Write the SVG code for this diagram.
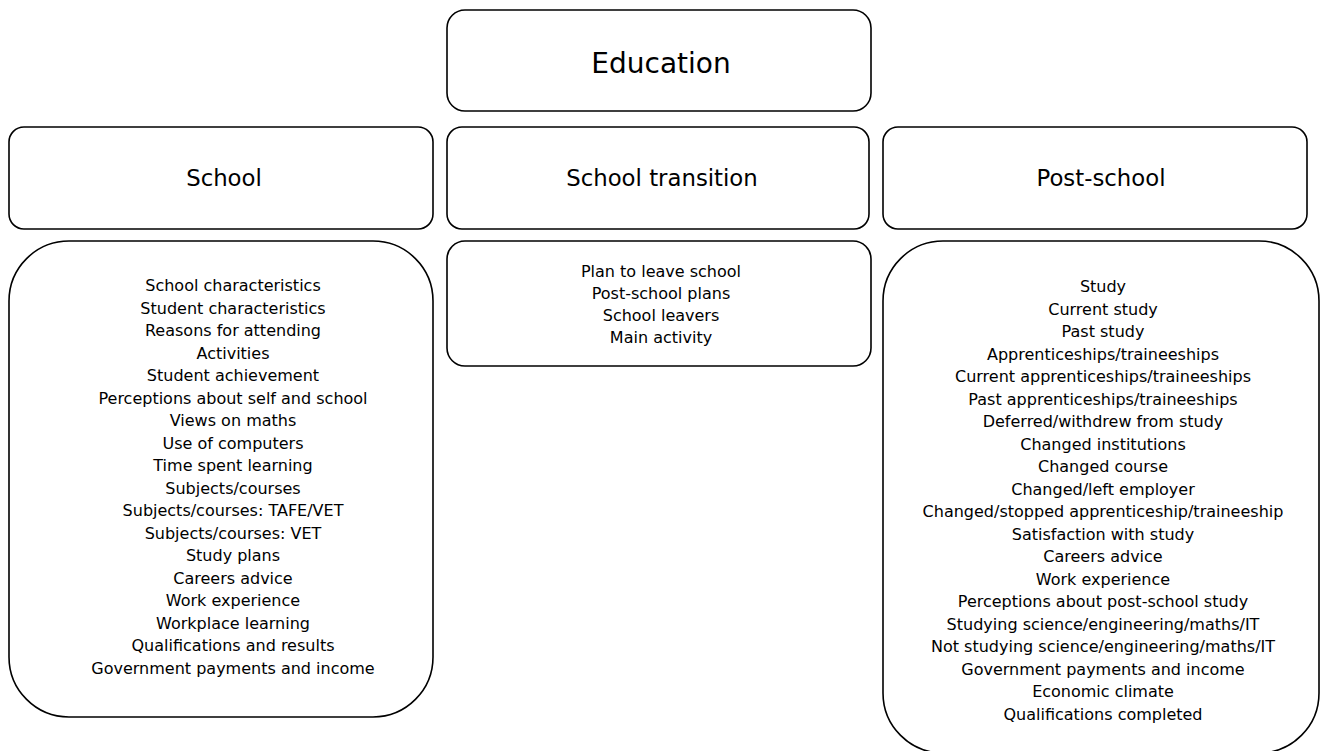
<svg xmlns="http://www.w3.org/2000/svg" width="1325" height="751" viewBox="0 0 1325 751">
<style>
.box{fill:#fff;stroke:#000;stroke-width:1.6}
text{font-family:"DejaVu Sans","Verdana",sans-serif;fill:#000;text-anchor:middle}
.t{font-size:16px}
.h{font-size:22.8px}
.e{font-size:28px}
</style>
<rect width="1325" height="751" fill="#fff"/>
<g id="education">
<rect class="box" x="447" y="10" width="424" height="101" rx="18"/>
<text class="e" x="661" y="73">Education</text>
</g>
<g id="school">
<rect class="box" x="9" y="127" width="424" height="102" rx="15"/>
<text class="h" x="224" y="186">School</text>
</g>
<g id="school-transition">
<rect class="box" x="447" y="127" width="422" height="102" rx="15"/>
<text class="h" x="662" y="186">School transition</text>
</g>
<g id="post-school">
<rect class="box" x="883" y="127" width="424" height="102" rx="15"/>
<text class="h" x="1101" y="186">Post-school</text>
</g>
<g id="school-list">
<rect class="box" x="9" y="241" width="424" height="476" rx="60"/>
<text class="t" x="233" y="291">School characteristics</text>
<text class="t" x="233" y="313.5">Student characteristics</text>
<text class="t" x="233" y="336">Reasons for attending</text>
<text class="t" x="233" y="358.5">Activities</text>
<text class="t" x="233" y="381">Student achievement</text>
<text class="t" x="233" y="403.5">Perceptions about self and school</text>
<text class="t" x="233" y="426">Views on maths</text>
<text class="t" x="233" y="448.5">Use of computers</text>
<text class="t" x="233" y="471">Time spent learning</text>
<text class="t" x="233" y="493.5">Subjects/courses</text>
<text class="t" x="233" y="516">Subjects/courses: TAFE/VET</text>
<text class="t" x="233" y="538.5">Subjects/courses: VET</text>
<text class="t" x="233" y="561">Study plans</text>
<text class="t" x="233" y="583.5">Careers advice</text>
<text class="t" x="233" y="606">Work experience</text>
<text class="t" x="233" y="628.5">Workplace learning</text>
<text class="t" x="233" y="651">Qualifications and results</text>
<text class="t" x="233" y="673.5">Government payments and income</text>
</g>
<g id="transition-list">
<rect class="box" x="447" y="241" width="424" height="125" rx="18"/>
<text class="t" x="661" y="277">Plan to leave school</text>
<text class="t" x="661" y="299">Post-school plans</text>
<text class="t" x="661" y="321">School leavers</text>
<text class="t" x="661" y="343">Main activity</text>
</g>
<g id="post-school-list">
<rect class="box" x="883" y="241" width="436" height="512" rx="60"/>
<text class="t" x="1103" y="292">Study</text>
<text class="t" x="1103" y="314.5">Current study</text>
<text class="t" x="1103" y="337">Past study</text>
<text class="t" x="1103" y="359.5">Apprenticeships/traineeships</text>
<text class="t" x="1103" y="382">Current apprenticeships/traineeships</text>
<text class="t" x="1103" y="404.5">Past apprenticeships/traineeships</text>
<text class="t" x="1103" y="427">Deferred/withdrew from study</text>
<text class="t" x="1103" y="449.5">Changed institutions</text>
<text class="t" x="1103" y="472">Changed course</text>
<text class="t" x="1103" y="494.5">Changed/left employer</text>
<text class="t" x="1103" y="517">Changed/stopped apprenticeship/traineeship</text>
<text class="t" x="1103" y="539.5">Satisfaction with study</text>
<text class="t" x="1103" y="562">Careers advice</text>
<text class="t" x="1103" y="584.5">Work experience</text>
<text class="t" x="1103" y="607">Perceptions about post-school study</text>
<text class="t" x="1103" y="629.5">Studying science/engineering/maths/IT</text>
<text class="t" x="1103" y="652">Not studying science/engineering/maths/IT</text>
<text class="t" x="1103" y="674.5">Government payments and income</text>
<text class="t" x="1103" y="697">Economic climate</text>
<text class="t" x="1103" y="719.5">Qualifications completed</text>
</g>
<g id="connectors"></g>
</svg>
